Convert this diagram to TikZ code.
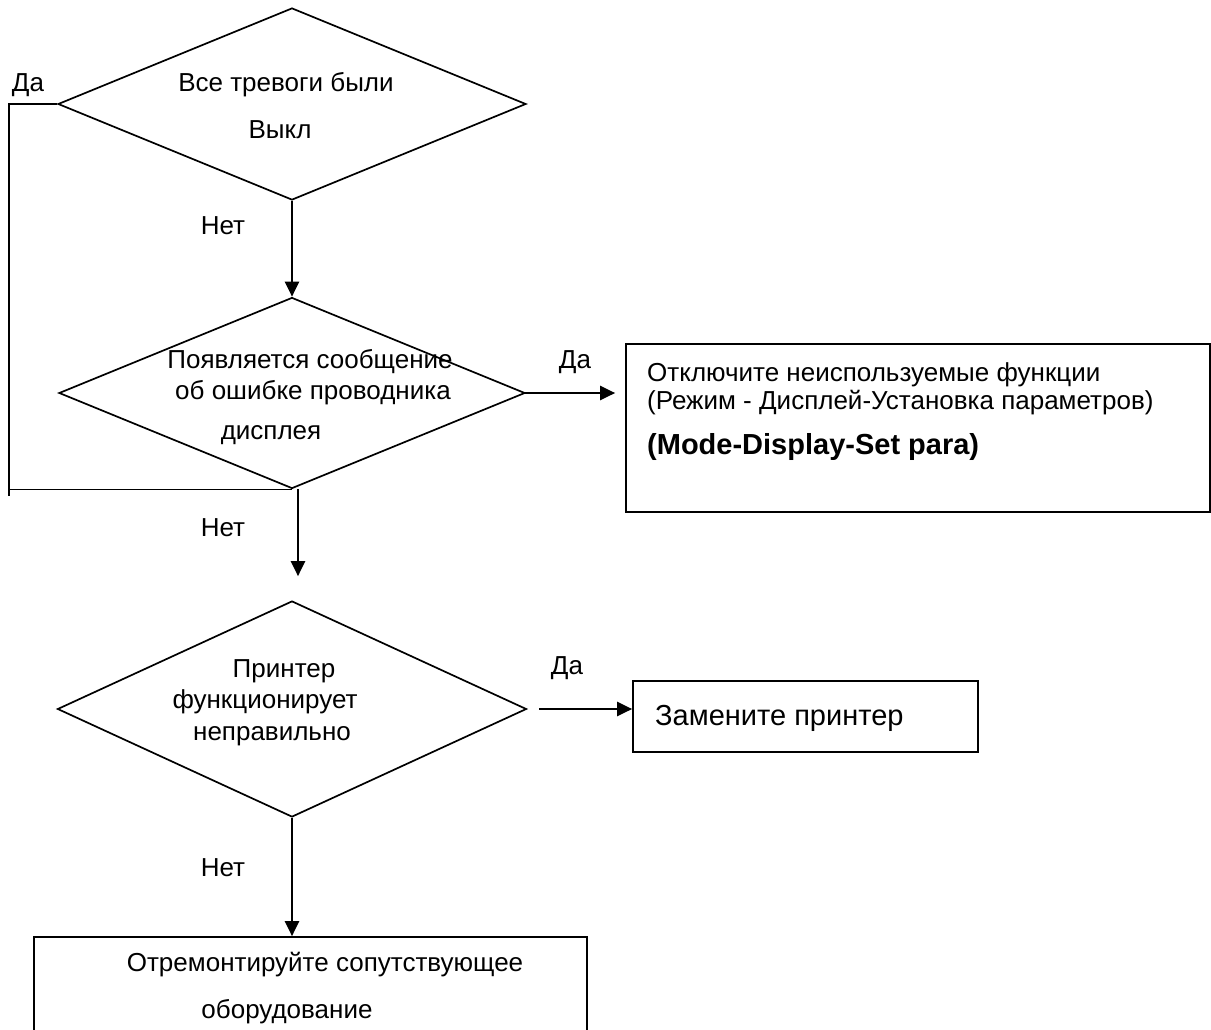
\documentclass[tikz,border=0pt]{standalone}
\usepackage{fontspec}
\setmainfont{Liberation Sans}
\usetikzlibrary{arrows.meta, shapes.geometric, positioning}

\begin{document}
\begin{tikzpicture}[x=1pt, y=-1pt, >={Triangle[length=15pt,width=14pt]},
    every node/.style={font=\fontsize{26}{30}\selectfont, inner sep=0pt},
    decision/.style={diamond, draw, line width=1.7pt, inner sep=0pt},
    actionbox/.style={rectangle, draw, line width=1.7pt, inner sep=0pt},
    flow/.style={->, line width=2.2pt},
    bigtext/.style={font=\fontsize{29}{34}\selectfont}]

    \useasboundingbox (0,0) rectangle (1211,1029);
    \clip (0,0) rectangle (1211,1029);

    % =================================================================
    % 1. БЛОКИ РЕШЕНИЙ (РОМБЫ)
    % =================================================================
    \node[decision, minimum width=468pt, minimum height=192pt] (AlarmsOff) at (292,104) {};
    \node[decision, minimum width=466pt, minimum height=191pt] (WireErr) at (292,393) {};
    \node[decision, minimum width=469pt, minimum height=216pt] (PrinterBad) at (292,709) {};

    % Тексты внутри ромбов
    \node[anchor=base] (AlarmsOffA) at (286,91) {Все тревоги были};
    \node[anchor=base] (AlarmsOffB) at (280,138) {Выкл};
    \node (WireErrA) at (310,362) {Появляется сообщение};
    \node (WireErrB) at (313,393) {об ошибке проводника};
    \node (WireErrC) at (271,435) {дисплея};
    \node[anchor=base] (PrinterBadA) at (284,677) {Принтер};
    \node[anchor=base] (PrinterBadB) at (265,708) {функционирует};
    \node[anchor=base] (PrinterBadC) at (272,740) {неправильно};

    % =================================================================
    % 2. БЛОКИ ДЕЙСТВИЙ (ПРЯМОУГОЛЬНИКИ)
    % =================================================================
    \node[actionbox, minimum width=584pt, minimum height=168pt] (DisableFn) at (918,428) {};
    \node[actionbox, minimum width=345pt, minimum height=71pt] (ReplacePrinter) at (805.5,716.5) {};
    \node[actionbox, minimum width=553pt, minimum height=130pt] (RepairEquip) at (310.5,1002) {};

    \node[anchor=west] (DisableFnA) at (647,375) {Отключите неиспользуемые функции};
    \node[anchor=west] (DisableFnB) at (647,403) {(Режим - Дисплей-Установка параметров)};
    \node[anchor=west, bigtext] (DisableFnC) at (647,447) {\bfseries (Mode-Display-Set para)};
    \node[anchor=west, bigtext] (ReplacePrinterA) at (655,718) {Замените принтер};
    \node (RepairEquipA) at (325,965) {Отремонтируйте сопутствующее};
    \node (RepairEquipB) at (287,1012) {оборудование};

    % =================================================================
    % 3. СОЕДИНИТЕЛЬНЫЕ ЛИНИИ И ПОДПИСИ
    % =================================================================
    % Ветвь "Да" первого ромба (обход слева)
    \coordinate (LoopTop) at (9,104);
    \coordinate (LoopJoin) at (LoopTop |- WireErr.south);
    \coordinate (LoopEnd) at ([yshift=-7pt]LoopJoin);
    \draw[line width=1.7pt] (AlarmsOff.west) -- (LoopTop) -- (LoopEnd);
    \draw[line width=1.7pt] (LoopJoin) -- (WireErr.south);
    \node[anchor=base] (YesA) at (28,91) {Да};

    \draw[flow] (AlarmsOff.south) -- (WireErr.north);
    \node (NoA) at (223,226) {Нет};

    \draw[flow, shorten <=-2pt, shorten >=10pt] (WireErr.east) -- (WireErr.east -| DisableFn.west);
    \node (YesB) at (575,362) {Да};

    \coordinate (WireOut) at ([xshift=6pt]WireErr.south);
    \coordinate (PrinterIn) at ([xshift=6pt]PrinterBad.north);
    \draw[flow, shorten >=24pt] (WireOut) -- (PrinterIn);
    \node (NoB) at (223,528) {Нет};

    \draw[flow, shorten <=12pt] (PrinterBad.east) -- (PrinterBad.east -| ReplacePrinter.west);
    \node (YesC) at (567,668) {Да};

    \draw[flow] (PrinterBad.south) -- (PrinterBad.south |- RepairEquip.north);
    \node (NoC) at (223,868) {Нет};

\end{tikzpicture}
\end{document}
